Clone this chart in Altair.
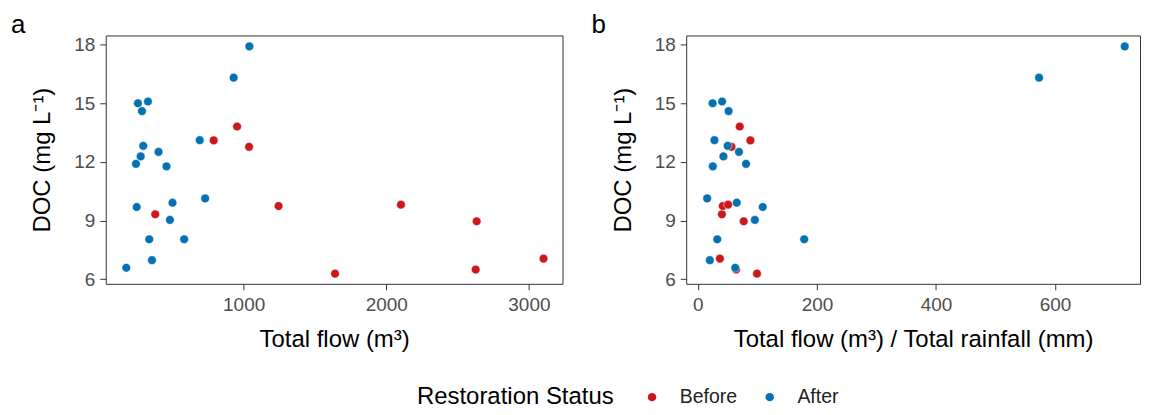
import altair as alt
import pandas as pd

status = ["Before"] * 10 + ["After"] * 19
doc = [13.81, 13.10, 12.77, 9.32, 9.74, 9.81, 8.96, 6.49, 6.28, 7.05,
       17.91, 16.31, 15.00, 15.09, 14.60, 13.11, 12.82, 12.51, 12.28, 11.90,
       11.77, 10.13, 9.91, 9.69, 9.03, 8.04, 8.04, 6.97, 6.58]
flow = [954, 790, 1038, 380, 1245, 2103, 2634, 2627, 1641, 3103,
        1040, 930, 259, 329, 287, 692, 296, 403, 278, 245,
        459, 730, 501, 250, 483, 338, 583, 357, 177]
ratio = [70.3, 88.2, 56.5, 40.4, 41.8, 50.8, 77.0, 64.2, 99.3, 37.0,
         717, 573, 24.8, 40.7, 51.6, 27.8, 50.0, 69.0, 42.9, 80.9,
         25.1, 15.6, 65.3, 108.9, 95.7, 32.6, 178.6, 20.1, 62.7]

df = pd.DataFrame({"status": status, "doc": doc, "flow": flow, "ratio": ratio})

FONT = "Liberation Sans"

color = alt.Color(
    "status:N",
    scale=alt.Scale(domain=["Before", "After"], range=["#CB181D", "#0571B0"]),
    legend=alt.Legend(
        title="Restoration Status",
        orient="none",
        direction="horizontal",
        titleOrient="left",
        titleAnchor="middle",
        titleBaseline="middle",
        legendX=312,
        legendY=352.5,
        titleFontSize=24,
        titleFont=FONT,
        titleFontWeight="normal",
        titleColor="black",
        titleLimit=500,
        titlePadding=28,
        labelFontSize=19.5,
        labelFont=FONT,
        labelColor="#222222",
        labelOffset=18,
        columnPadding=23,
        symbolType="circle",
        symbolSize=72,
        symbolStrokeWidth=0,
    ),
)


def panel(field, xtitle, xdomain, xticks, tag, w):
    return (
        alt.Chart(
            df,
            title=alt.TitleParams(
                tag, anchor="start", frame="group", dx=-95, fontSize=26, font=FONT,
                fontWeight="normal", color="black", offset=-3,
            ),
        )
        .mark_circle(size=76, opacity=1, stroke="white", strokeWidth=0.5)
        .encode(
            x=alt.X(
                f"{field}:Q",
                scale=alt.Scale(domain=xdomain, nice=False, zero=False),
                axis=alt.Axis(values=xticks, title=xtitle, format="d"),
            ),
            y=alt.Y(
                "doc:Q",
                scale=alt.Scale(domain=[5.76, 18.47], nice=False, zero=False),
                axis=alt.Axis(values=[6, 9, 12, 15, 18], title="DOC (mg L⁻¹)"),
            ),
            color=color,
        )
        .properties(width=w, height=249)
    )


a = panel("flow", "Total flow (m³)", [33, 3236], [1000, 2000, 3000], "a", 458)
b = panel("ratio", "Total flow (m³) / Total rainfall (mm)", [-19.6, 742.6], [0, 200, 400, 600], "b", 455)

chart = (
    alt.hconcat(a, b, spacing=27)
    .properties(padding={"left": 2, "top": 3, "right": 0, "bottom": 0})
    .configure_view(stroke="#333333", strokeWidth=1)
    .configure_axis(
        domain=False,
        grid=False,
        labelFont=FONT,
        labelFontSize=19,
        labelColor="#4D4D4D",
        titleFont=FONT,
        titleFontSize=24,
        titleFontWeight="normal",
        titleColor="black",
        tickColor="#333333",
        tickSize=6,
        tickWidth=1,
    )
    .configure_axisX(titlePadding=13, labelPadding=6)
    .configure_axisY(titlePadding=19, labelPadding=5)
)

chart.save("out.html", embed_options={"renderer": "svg", "actions": False})
